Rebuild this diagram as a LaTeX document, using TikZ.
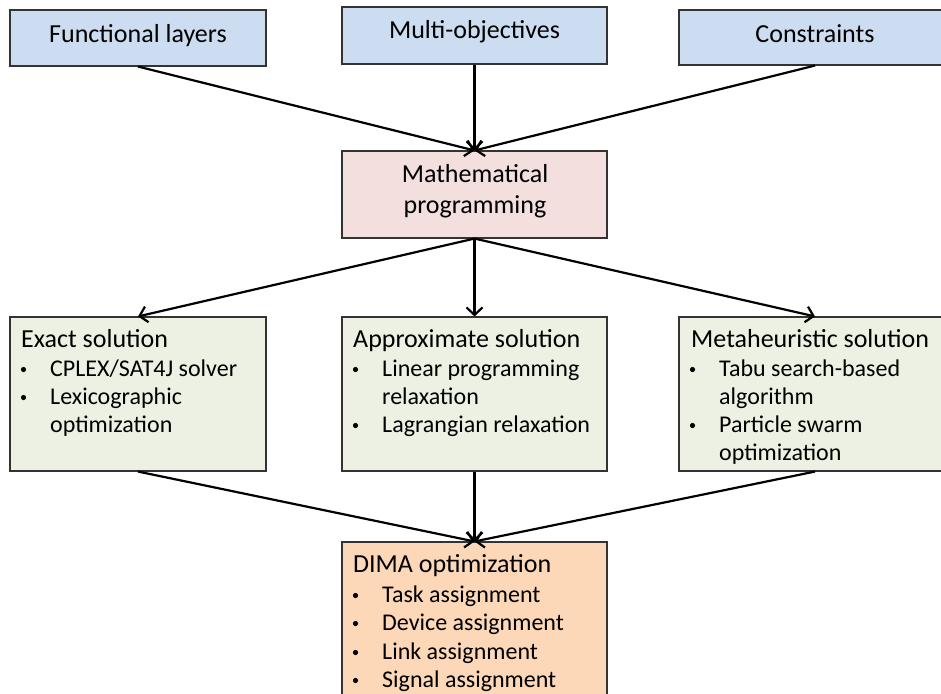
\documentclass[tikz,border=0pt]{standalone}
\usepackage{fontspec}
\setmainfont{Carlito}
\usetikzlibrary{arrows.meta}
\definecolor{topblue}{HTML}{CCDDF1}
\definecolor{mathpink}{HTML}{F2DFDE}
\definecolor{solgreen}{HTML}{EDF1E3}
\definecolor{dimaorange}{HTML}{FCD7B8}
\definecolor{edgegray}{HTML}{333333}
\newcommand\bulline[4]{%
  \node[dot] (#1b) at (#2+13.5,#3-6.5) {};
  \node[btxt] (#1t) at (#2+40,#3) {#4};}
\begin{document}
\begin{tikzpicture}[x=1pt,y=-1pt,
  box/.style={draw=edgegray, line width=1.1pt, inner sep=0pt},
  txt/.style={inner sep=0pt, anchor=base west, font=\fontsize{26}{29}\selectfont},
  btxt/.style={inner sep=0pt, anchor=base west, font=\fontsize{24}{28}\selectfont},
  ctxt/.style={inner sep=0pt, anchor=base, font=\fontsize{26}{29}\selectfont},
  dot/.style={circle, fill=black, inner sep=0pt, minimum size=5.2pt},
  conn/.style={line width=2.2pt, -{Straight Barb[length=7.5pt,width=16pt,line width=2.2pt]}}]
\useasboundingbox (0,0) rectangle (941,693);
\clip (0,0) rectangle (941,693);
% top row
\node[box, fill=topblue, minimum width=256pt, minimum height=56pt] (fl) at (138,38) {};
\node[box, fill=topblue, minimum width=265pt, minimum height=57pt] (mo) at (474.5,35.5) {};
\node[box, fill=topblue, minimum width=272pt, minimum height=55pt] (co) at (815,37.5) {};
\node[ctxt] (flt) at (138,42) {Functional layers};
\node[ctxt] (mot) at (474.5,38) {Multi-objectives};
\node[ctxt] (cot) at (815,42) {Constraints};
% math programming
\node[box, fill=mathpink, minimum width=265pt, minimum height=87pt] (mp) at (474.5,194.5) {};
\node[ctxt] (mpt1) at (475,182) {Mathematical};
\node[ctxt] (mpt2) at (475,213) {programming};
% solution boxes
\node[box, fill=solgreen, minimum width=256pt, minimum height=154pt] (ex) at (138,394) {};
\node[box, fill=solgreen, minimum width=265pt, minimum height=154pt] (ap) at (474.5,394) {};
\node[box, fill=solgreen, minimum width=272pt, minimum height=154pt] (me) at (815,394) {};
\node[txt] (ext) at (21,347) {Exact solution};
\bulline{exa}{10}{376}{CPLEX/SAT4J solver}
\bulline{exb}{10}{404}{Lexicographic}
\node[btxt] (exc) at (50,432) {optimization};
\node[txt] (apt) at (353,347) {Approximate solution};
\bulline{apa}{342}{376}{Linear programming}
\node[btxt] (apb) at (382,404) {relaxation};
\bulline{apc}{342}{432}{Lagrangian relaxation}
\node[txt] (met) at (691,347) {Metaheuristic solution};
\bulline{mea}{679}{376}{Tabu search-based}
\node[btxt] (meb) at (719,404) {algorithm};
\bulline{mec}{679}{432}{Particle swarm}
\node[btxt] (med) at (719,460) {optimization};
% DIMA
\node[box, fill=dimaorange, minimum width=265pt, minimum height=160pt] (di) at (474.5,622) {};
\node[txt] (dit) at (353,572) {DIMA optimization};
\bulline{dia}{342}{602}{Task assignment}
\bulline{dib}{342}{630}{Device assignment}
\bulline{dic}{342}{659}{Link assignment}
\bulline{did}{342}{687}{Signal assignment}
% connectors
\draw[conn] (fl.south) -- (mp.north);
\draw[conn] (mo.south) -- (mp.north);
\draw[conn] (co.south) -- (mp.north);
\draw[conn] (mp.south) -- (ex.north);
\draw[conn] (mp.south) -- (ap.north);
\draw[conn] (mp.south) -- (me.north);
\draw[conn] (ex.south) -- (di.north);
\draw[conn] (ap.south) -- (di.north);
\draw[conn] (me.south) -- (di.north);
\end{tikzpicture}
\end{document}
